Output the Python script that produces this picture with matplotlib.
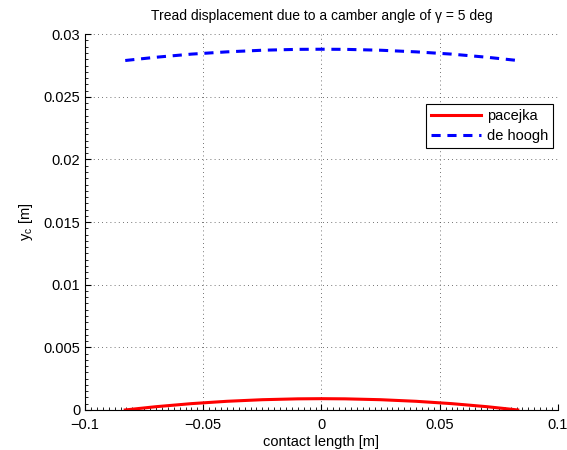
"""
Tread displacement due to camber angle - pacejka vs de hoogh
"""
import matplotlib
matplotlib.use('Agg')
import matplotlib.pyplot as plt
from matplotlib.ticker import MultipleLocator

plt.rcParams['font.family'] = ['Liberation Sans', 'DejaVu Sans']
plt.rcParams['mathtext.default'] = 'regular'

# contact length positions [m]
contact_x = [-0.083, -0.07, -0.055, -0.04, -0.025, -0.01, 0.0,
             0.01, 0.025, 0.04, 0.055, 0.07, 0.083]
# lateral tread displacement y_c [m]
pacejka = [0.0, 0.00026, 0.000505, 0.000691, 0.000818, 0.000887, 0.0009,
           0.000887, 0.000818, 0.000691, 0.000505, 0.00026, 0.0]
de_hoogh = [0.0279, 0.02816, 0.02841, 0.02859, 0.02872, 0.02879, 0.0288,
            0.02879, 0.02872, 0.02859, 0.02841, 0.02816, 0.0279]

xticks = [-0.1, -0.05, 0, 0.05, 0.1]
xtick_labels = ['\u22120.1', '\u22120.05', '0', '0.05', '0.1']
yticks = [0, 0.005, 0.01, 0.015, 0.02, 0.025, 0.03]
ytick_labels = ['0', '0.005', '0.01', '0.015', '0.02', '0.025', '0.03']

fig = plt.figure(figsize=(5.67, 4.5), dpi=100)
ax = fig.add_axes([0.150, 0.089, 0.834, 0.835])

ax.plot(contact_x, pacejka, color='#ff0000', linewidth=2.2, label='pacejka')
ax.plot(contact_x, de_hoogh, color='#0000ff', linewidth=2.2,
        linestyle=(0, (3, 2.2)), label='de hoogh')

ax.set_xlim(-0.1, 0.1)
ax.set_ylim(0, 0.03)
ax.set_xticks(xticks)
ax.set_xticklabels(xtick_labels)
ax.set_yticks(yticks)
ax.set_yticklabels(ytick_labels)
ax.xaxis.set_minor_locator(MultipleLocator(0.0025))
ax.yaxis.set_minor_locator(MultipleLocator(0.0005))
ax.tick_params(which='both', direction='in', labelsize=10.5, color='k')
ax.tick_params(which='major', length=4, width=0.8)
ax.tick_params(which='minor', length=2, width=0.6)
ax.tick_params(axis='x', which='major', pad=6)

ax.spines['top'].set_visible(False)
ax.spines['right'].set_visible(False)
ax.grid(True, which='major', color='#444444', linestyle=(0, (1, 4)), linewidth=0.6)

ax.set_xlabel('contact length [m]', fontsize=10.5, labelpad=2)
ax.set_ylabel('y$_c$ [m]', fontsize=10.5, labelpad=6)
ax.set_title('Tread displacement due to a camber angle of \u03b3 = 5 deg',
             fontsize=10, pad=10)

leg = ax.legend(loc='upper right', bbox_to_anchor=(0.99, 0.815), fontsize=10.5,
                fancybox=False, framealpha=1, edgecolor='k', handlelength=3.4,
                borderpad=0.35, labelspacing=0.4, handletextpad=0.4,
                borderaxespad=0)
leg.get_frame().set_linewidth(0.8)

plt.savefig('out.png', dpi=100)
plt.close()
